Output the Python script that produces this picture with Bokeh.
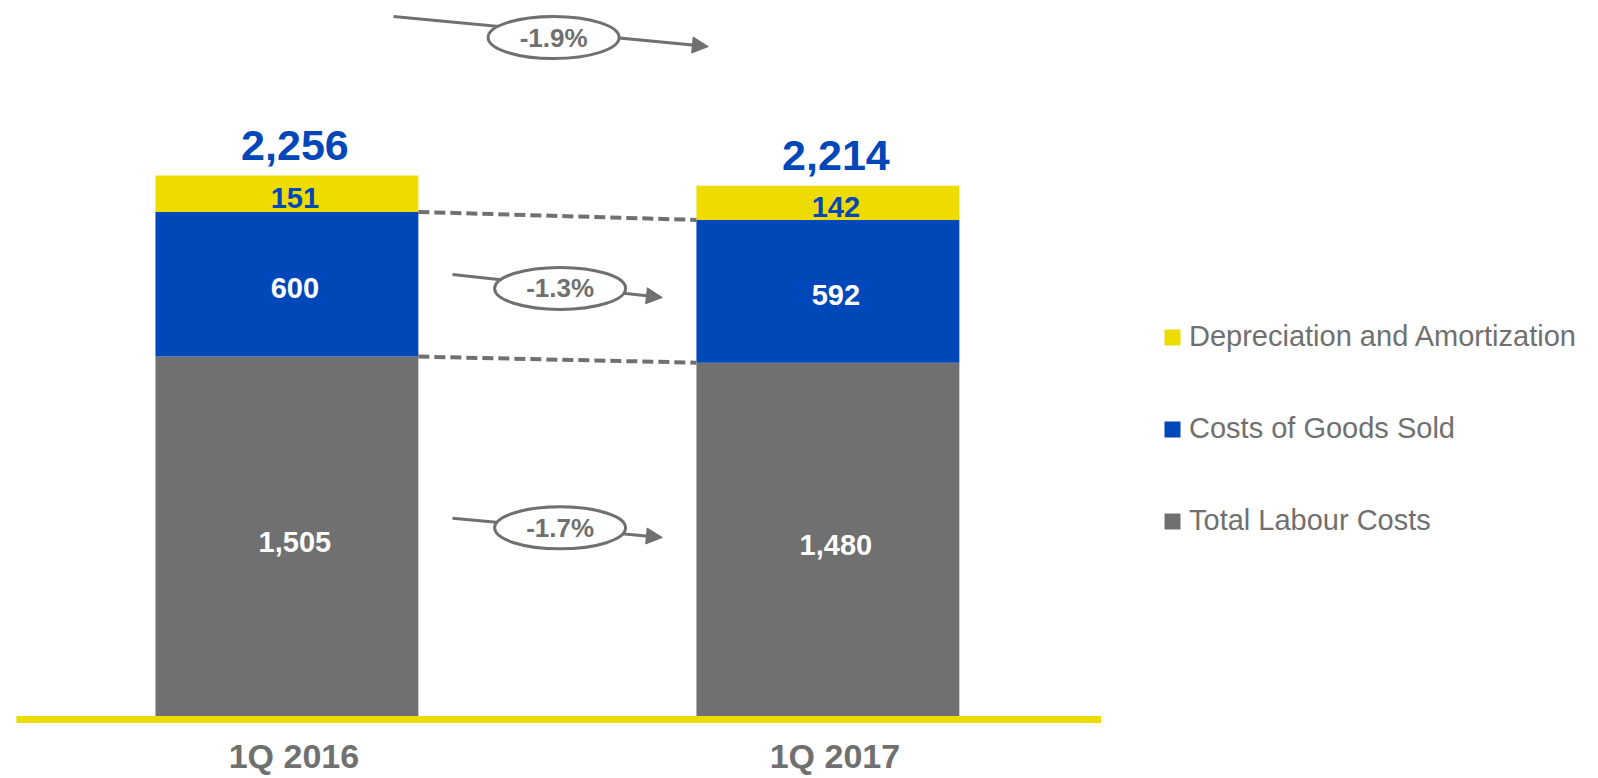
from bokeh.plotting import figure
from bokeh.models import (ColumnDataSource, Legend, LegendItem, Arrow, NormalHead, Range1d)
from bokeh.core.properties import value
from bokeh.embed import file_html
from bokeh.resources import INLINE

# ---------------- data ----------------
quarters = ["1Q 2016", "1Q 2017"]
labour = [1505, 1480]
cogs = [600, 592]
dep = [151, 142]
totals = [2256, 2214]
series_names = ["Total Labour Costs", "Costs of Goods Sold", "Depreciation and Amortization"]
changes_labour = "-1.7%"
changes_cogs = "-1.3%"
changes_total = "-1.9%"

# ---------------- style ----------------
GRAY = "#707070"
BLUE = "#0047BA"
YELLOW = "#EEDC00"
FONT = value("Liberation Sans")
BAR_W = 0.486
LBL_DX = 8

xs = list(range(len(quarters)))
src = ColumnDataSource(dict(x=xs, labour=labour, cogs=cogs, dep=dep))

p = figure(x_range=Range1d(-0.5294, 2.4244), y_range=Range1d(-244.7, 2982),
           width=1598, height=778, output_backend="svg", toolbar_location=None,
           min_border_left=0, min_border_right=0, min_border_top=0,
           min_border_bottom=0)
p.outline_line_color = None
p.xgrid.visible = False
p.ygrid.visible = False
p.yaxis.visible = False
p.xaxis.visible = False

rs = p.vbar_stack(["labour", "cogs", "dep"], x="x", width=BAR_W,
                  color=[GRAY, BLUE, YELLOW], line_color=None, source=src)

# baseline spanning the category bands
p.segment(x0=[-0.5], y0=[0], x1=[len(quarters) - 0.495], y1=[0],
          line_color=YELLOW, line_width=7, line_cap="butt")

# category labels below baseline
p.text(x=xs, y=[0] * len(xs), text=quarters, text_align="center",
       text_baseline="middle", x_offset=LBL_DX - 1, y_offset=37, text_font=FONT,
       text_font_style="bold", text_font_size="34px", text_color=GRAY)

# segment labels
mid_l = [v / 2 for v in labour]
mid_c = [l + c / 2 for l, c in zip(labour, cogs)]
mid_d = [l + c + d / 2 for l, c, d in zip(labour, cogs, dep)]
fmt = lambda v: f"{v:,}"

def seg_text(ys, vals, color):
    p.text(x=xs, y=ys, text=[fmt(v) for v in vals], text_align="center",
           text_baseline="middle", x_offset=LBL_DX, y_offset=4, text_font=FONT,
           text_font_style="bold", text_font_size="29px", text_color=color)

seg_text(mid_l, labour, "white")
seg_text(mid_c, cogs, "white")
seg_text(mid_d, dep, BLUE)

p.text(x=xs, y=totals, text=[fmt(v) for v in totals], text_align="center",
       text_baseline="alphabetic", x_offset=LBL_DX, y_offset=-30, text_font=FONT,
       text_font_style="bold", text_font_size="43px", text_color=BLUE)

# dashed connectors between segment boundaries
x_r = xs[0] + BAR_W / 2
x_l = xs[1] - BAR_W / 2
b1 = [l + c for l, c in zip(labour, cogs)]
p.segment(x0=[x_r, x_r], y0=[b1[0], labour[0]], x1=[x_l, x_l], y1=[b1[1], labour[1]],
          line_color=GRAY, line_width=4, line_dash="11 5")

# change arrows with ellipse badges
def change_arrow(x0, y0, x1, y1, label, drop=0):
    p.add_layout(Arrow(end=NormalHead(size=16, fill_color=GRAY, line_color=GRAY),
                       x_start=x0, y_start=y0, x_end=x1, y_end=y1,
                       line_color=GRAY, line_width=3))
    xm = (x0 + x1) / 2 + 0.005
    ym = (y0 + y1) / 2 - drop
    e = p.ellipse(x=[xm], y=[ym], width=131, height=42, width_units="screen",
                  height_units="screen", fill_color="white", line_color=GRAY, line_width=3)
    e.level = "overlay"
    t = p.text(x=[xm], y=[ym], text=[label], text_align="center", text_baseline="middle",
               text_font=FONT, text_font_style="bold", text_font_size="26px",
               text_color=GRAY)
    t.level = "overlay"

ax0 = x_r + 0.063
ax1 = x_l - 0.063
change_arrow(ax0, mid_c[0] + 41, ax1, mid_c[1] - 26, changes_cogs, drop=10)
change_arrow(ax0, mid_l[0] + 82, ax1, mid_l[1] + 15, changes_labour)
change_arrow(0.197, totals[0] + 660, 0.779, totals[1] + 577, changes_total, drop=25)

legend = Legend(items=[LegendItem(label=series_names[2], renderers=[rs[2]]),
                       LegendItem(label=series_names[1], renderers=[rs[1]]),
                       LegendItem(label=series_names[0], renderers=[rs[0]])],
                location=(1162, 241))
legend.label_text_font = "Liberation Sans"
legend.label_text_font_size = "29px"
legend.label_text_color = GRAY
legend.glyph_width = 20
legend.glyph_height = 20
legend.spacing = 59
legend.padding = 0
legend.margin = 0
legend.label_standoff = 7
legend.border_line_color = None
legend.background_fill_alpha = 0
p.add_layout(legend, "center")

open("out.html", "w").write(file_html(p, INLINE))
